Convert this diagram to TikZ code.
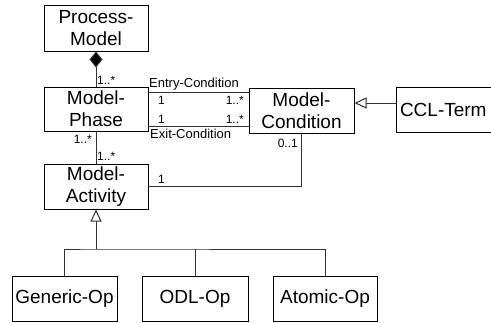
\documentclass[tikz,border=0pt]{standalone}
\usepackage{fontspec}
\setmainfont{Liberation Sans}
\usetikzlibrary{arrows.meta}
\begin{document}
\begin{tikzpicture}[x=1pt,y=-1pt,
  cls/.style={draw=black,line width=1pt,fill=white,align=center,inner sep=0pt,
    font=\fontsize{19}{22}\selectfont},
  conn/.style={draw=black!80,line width=1pt},
  lbl/.style={inner sep=0pt,font=\fontsize{13}{15}\selectfont},
  mult/.style={inner sep=0pt,font=\fontsize{12}{14}\selectfont},
  gen/.style={-{Triangle[open,length=12pt,width=11pt,fill=white]}}]
\useasboundingbox (0,0) rectangle (491,322);
\node[cls,minimum width=104pt,minimum height=46pt] (PM) at (96,28) {Process-\\Model};
\node[cls,minimum width=104pt,minimum height=44pt] (MP) at (96,109) {Model-\\Phase};
\node[cls,minimum width=104pt,minimum height=45pt] (MA) at (96,186.5) {Model-\\Activity};
\node[cls,minimum width=105pt,minimum height=45pt] (MC) at (301.5,110.5) {Model-\\Condition};
\node[cls,minimum width=104pt,minimum height=45pt,text width=96pt,align=left] (CCL) at (448,109.5) {CCL-Term};
\node[cls,minimum width=105pt,minimum height=45pt] (GO) at (64.5,298.5) {Generic-Op};
\node[cls,minimum width=106pt,minimum height=45pt] (ODL) at (195,298.5) {ODL-Op};
\node[cls,minimum width=104pt,minimum height=45pt] (AO) at (325,298.5) {Atomic-Op};
% composition
\draw[conn,{Diamond[length=16pt,width=13pt,fill=black]}-] (PM.south) -- (MP.north);
\node[mult,anchor=base west] (m1) at (97,84) {1..*};
% entry / exit
\draw[conn] ([yshift=17pt]MP.east) -- ([yshift=17pt]MP.east -| MC.west);
\draw[conn] ([yshift=-17pt]MP.east) -- ([yshift=-17pt]MP.east -| MC.west);
\node[lbl,anchor=base west] (en) at (149,87) {Entry-Condition};
\node[lbl,anchor=base west] (ex) at (150,138) {Exit-Condition};
\node[mult,anchor=base west] (a1) at (158,104) {1};
\node[mult,anchor=base west] (a2) at (158,123) {1};
\node[mult,anchor=base east] (b1) at (244,104) {1..*};
\node[mult,anchor=base east] (b2) at (244,123) {1..*};
% phase - activity
\draw[conn] (MP.south) -- (MA.north);
\node[mult,anchor=base east] (c1) at (92,143) {1..*};
\node[mult,anchor=base west] (c2) at (97,160) {1..*};
% activity - condition
\draw[conn] (MA.east) -| (MC.south);
\node[mult,anchor=base west] (d1) at (158,183) {1};
\node[mult,anchor=base east] (d2) at (298,147) {0..1};
% CCL-Term generalization
\draw[conn,gen] ([yshift=6.5pt]CCL.west) -- ([yshift=6.5pt]CCL.west -| MC.east);
% operations generalization
\coordinate (j) at (96,249);
\draw[conn] (GO.north) |- (j) -| (AO.north);
\draw[conn] (ODL.north) -- (ODL.north |- j);
\draw[conn,gen] (j) -- (MA.south);
\end{tikzpicture}
\end{document}
